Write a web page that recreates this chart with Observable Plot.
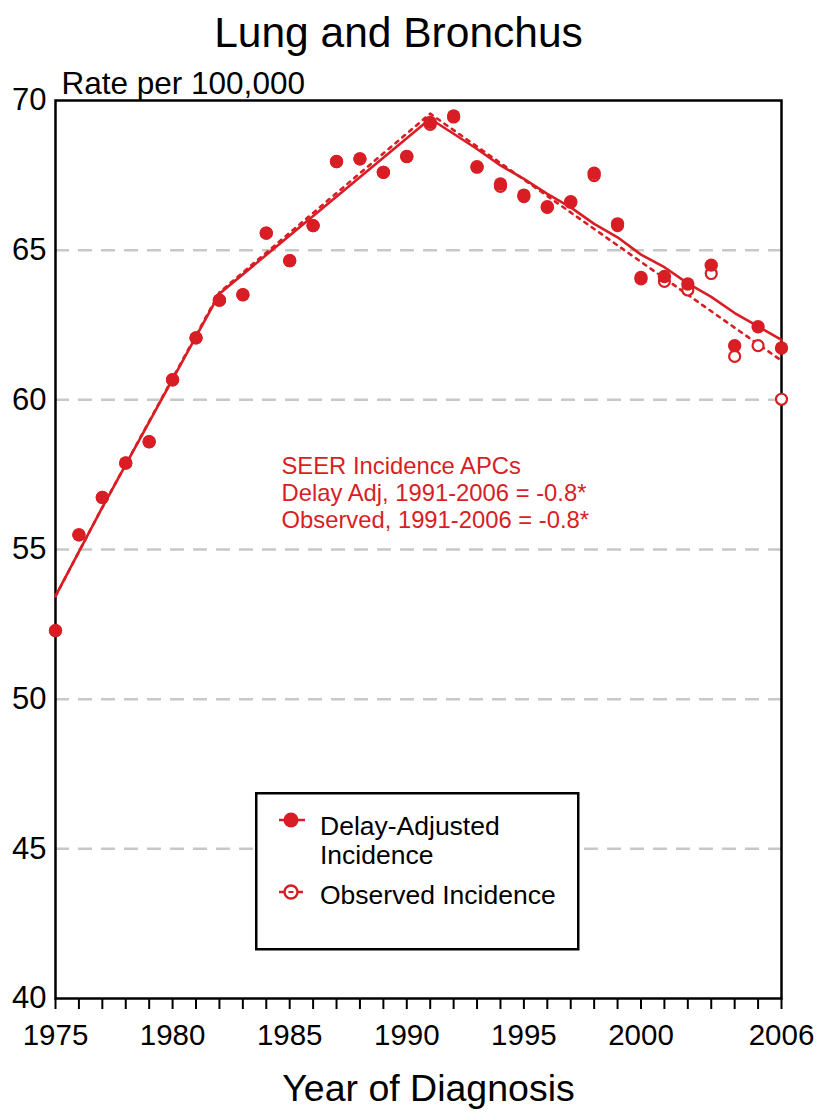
<!DOCTYPE html>
<html><head><meta charset="utf-8">
<script src="https://cdn.jsdelivr.net/npm/d3@7"></script>
<script src="https://cdn.jsdelivr.net/npm/@observablehq/plot@0.6"></script>
<style>
body{margin:0;background:#fff;}
#wrap{position:relative;width:825px;height:1119px;font-family:"Liberation Sans",Arial,Helvetica,sans-serif;}
#legend{position:absolute;left:255px;top:792px;}
</style></head><body><div id="wrap"></div>
<script>
// ---- data ----
const years = [1975,1976,1977,1978,1979,1980,1981,1982,1983,1984,1985,1986,1987,1988,1989,1990,
               1991,1992,1993,1994,1995,1996,1997,1998,1999,2000,2001,2002,2003,2004,2005,2006];
const delayAdjusted = [52.29,55.49,56.74,57.89,58.60,60.67,62.07,63.33,63.51,65.57,64.65,65.82,67.96,68.05,67.60,68.13,
                       69.27,69.48,67.79,67.21,66.84,66.45,66.62,67.57,65.88,64.09,64.12,63.87,64.50,61.81,62.44,61.73];
const observed = [52.29,55.49,56.74,57.89,58.60,60.67,62.07,63.33,63.51,65.57,64.65,65.82,67.96,68.05,67.60,68.13,
                  69.20,69.45,67.77,67.13,66.79,66.43,66.60,67.49,65.82,64.04,63.96,63.67,64.22,61.45,61.81,60.02];
const delayTrendYears = [1975,1977,1982,1991,1992,1993,1994,1995,1996,1997,1998,1999,2000,2001,2002,2003,2004,2005,2006];
const delayTrend = [53.44,56.41,63.54,69.39,68.89,68.38,67.83,67.38,66.88,66.43,65.88,65.43,64.85,64.43,63.89,63.44,62.90,62.45,62.00];
const observedTrendYears = [1975,1977,1982,1991,2006];
const observedTrend = [53.44,56.41,63.59,69.56,61.31];
const yTicks = [40,45,50,55,60,65,70];
const yGrid = [45,50,55,60,65];
const xTickLabels = [1975,1980,1985,1990,1995,2000,2006];
const titleText = "Lung and Bronchus";
const yLabel = "Rate per 100,000";
const xLabel = "Year of Diagnosis";
const noteLines = ["SEER Incidence APCs","Delay Adj, 1991-2006 = -0.8*","Observed, 1991-2006 = -0.8*"];
const legendLabels = [["Delay-Adjusted","Incidence"],["Observed Incidence"]];

// ---- build ----
const red = "#d81e24";
const font = '"Liberation Sans",Arial,Helvetica,sans-serif';
const delayPts = years.map((year,i)=>({year, rate: delayAdjusted[i]}));
const obsPts = years.map((year,i)=>({year, rate: observed[i]}));
const delayLine = delayTrendYears.map((year,i)=>({year, rate: delayTrend[i]}));
const obsLine = observedTrendYears.map((year,i)=>({year, rate: observedTrend[i]}));

const chart = Plot.plot({
  width: 825, height: 1119,
  marginTop: 100, marginBottom: 121, marginLeft: 55, marginRight: 44,
  style: {fontFamily: font, background: "white", color: "black", overflow: "visible"},
  x: {domain: [1975, 2006], label: null},
  y: {domain: [40, 70], label: null},
  marks: [
    Plot.ruleY(yGrid, {stroke: "#c8c8c8", strokeWidth: 2.5, strokeDasharray: "14,9"}),
    Plot.axisY(yTicks, {tickSize: 0, tickPadding: 9, fontSize: 31, label: null}),
    Plot.axisX(years, {tickSize: 11, strokeWidth: 2, tickFormat: () => "", label: null}),
    Plot.axisX(xTickLabels, {tickSize: 0, tickPadding: 26, fontSize: 29.5, tickFormat: "d", label: null}),
    Plot.frame({stroke: "black", strokeWidth: 2.5}),
    Plot.line(obsLine, {x: "year", y: "rate", stroke: red, strokeWidth: 2.6, strokeDasharray: "3.5,5.5"}),
    Plot.line(delayLine, {x: "year", y: "rate", stroke: red, strokeWidth: 2.6}),
    Plot.dot(obsPts, {x: "year", y: "rate", r: 5.5, fill: "white", stroke: red, strokeWidth: 2.2}),
    Plot.dot(delayPts, {x: "year", y: "rate", r: 6.7, fill: red}),
    Plot.text([titleText], {text: d => d, frameAnchor: "top", dx: -20, dy: -54, lineAnchor: "bottom", fontSize: 42.5, fill: "black"}),
    Plot.text([yLabel], {text: d => d, frameAnchor: "top-left", textAnchor: "start", dx: 6, dy: -7, lineAnchor: "bottom", fontSize: 31.5, fill: "black"}),
    Plot.text([xLabel], {text: d => d, frameAnchor: "bottom", dx: 10, dy: 102, lineAnchor: "bottom", fontSize: 37.5, fill: "black"}),
    Plot.text([noteLines.join("\n")], {text: d => d, frameAnchor: "top-left", textAnchor: "start", dx: 226, dy: 355, lineAnchor: "top", fontSize: 23.8, lineHeight: 1.12, fill: red})
  ]
});
const wrap = document.getElementById("wrap");
wrap.appendChild(chart);

// ---- legend ----
const lg = d3.select(wrap).append("svg").attr("id","legend")
  .attr("width", 326).attr("height", 160)
  .style("font-family", font);
lg.append("rect").attr("x",1.25).attr("y",1.25).attr("width",322).attr("height",156)
  .attr("fill","white").attr("stroke","black").attr("stroke-width",2.5);
// item 1
const g1 = lg.append("g").attr("transform","translate(36,28)");
g1.append("line").attr("x1",-12).attr("x2",14).attr("stroke",red).attr("stroke-width",2.5);
g1.append("circle").attr("r",7.5).attr("fill",red);
lg.append("text").attr("x",65).attr("y",43).attr("font-size",26.5).attr("fill","black")
  .selectAll("tspan").data(legendLabels[0]).join("tspan")
  .attr("x",65).attr("dy",(d,i)=> i ? 29 : 0).text(d=>d);
// item 2
const g2 = lg.append("g").attr("transform","translate(36,100)");
g2.append("line").attr("x1",-12).attr("x2",-6).attr("stroke",red).attr("stroke-width",2.5);
g2.append("line").attr("x1",6).attr("x2",12).attr("stroke",red).attr("stroke-width",2.5);
g2.append("circle").attr("r",6.5).attr("fill","white").attr("stroke",red).attr("stroke-width",2.4);
g2.append("line").attr("x1",-2.5).attr("x2",2.5).attr("stroke",red).attr("stroke-width",2);
lg.append("text").attr("x",65).attr("y",112).attr("font-size",26.5).attr("fill","black").text(legendLabels[1][0]);
</script></body></html>
